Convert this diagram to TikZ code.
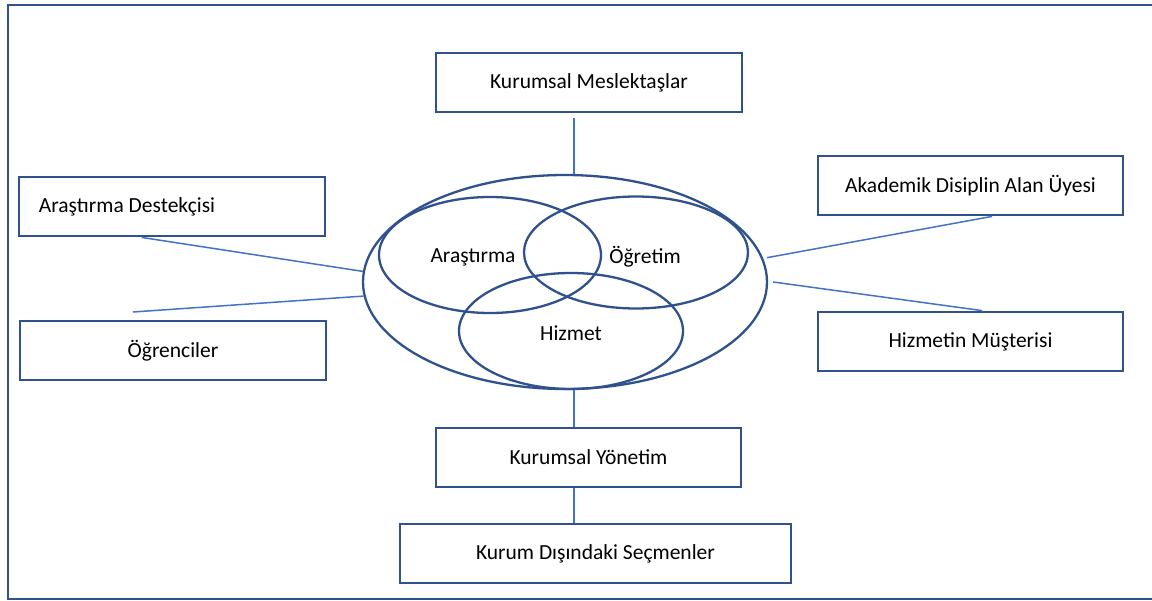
\documentclass[tikz,border=0pt]{standalone}
\usepackage{fontspec}
\setmainfont{Carlito}
\usetikzlibrary{shapes.geometric,calc}
\definecolor{boxblue}{RGB}{47,82,143}
\definecolor{lineblue}{RGB}{68,114,196}
\tikzset{
  card/.style={draw=boxblue, line width=2.8pt, fill=white, minimum width=306pt, minimum height=59pt, inner sep=0pt, text=black},
  ring/.style={ellipse, draw=boxblue, line width=2.3pt, inner sep=0pt},
  lbl/.style={text=black, inner sep=0pt},
  link/.style={draw=lineblue, line width=1.5pt}
}
\begin{document}
\begin{tikzpicture}[x=1pt,y=-1pt, font=\fontsize{21.5}{26}\selectfont]
\useasboundingbox (0,0) rectangle (1152,601);
\clip (0,0) rectangle (1152,601);
\fill[white] (0,0) rectangle (1152,601);
\draw[boxblue, line width=2.8pt] (8,5) rectangle (1162,599);

% ellipses
\node[ring, minimum width=404pt, minimum height=214pt] (outer) at (565,282) {};
\node[ring, minimum width=222pt, minimum height=116pt] (arr) at (490,255) {};
\node[ring, minimum width=224pt, minimum height=112pt] (ogr) at (636,252.5) {};
\node[ring, minimum width=224pt, minimum height=116pt] (hiz) at (571,331) {};
\node[lbl] (tarr) at (473,257) {Araştırma};
\node[lbl] (togr) at (645,257) {Öğretim};
\node[lbl] (thiz) at (571,333) {Hizmet};

% boxes
\node[card] (km) at (589,82.5) {Kurumsal Meslektaşlar};
\node[card] (ad) at (172,206.5) {Araştırma Destekçisi\hspace*{90pt}};
\node[card] (og) at (173,350.5) {Öğrenciler};
\node[card, minimum width=305pt] (ak) at (970.5,185.5) {Akademik Disiplin Alan Üyesi};
\node[card, minimum width=305pt] (hm) at (970.5,341.5) {Hizmetin Müşterisi};
\node[card, minimum width=305pt] (ky) at (588.5,457.5) {Kurumsal Yönetim};
\node[card, minimum width=391pt] (kd) at (595.5,553.5) {Kurum Dışındaki Seçmenler};

% connectors
\coordinate (ogfree) at (133,312);
\draw[link] ([xshift=-15pt,yshift=-5pt]km.south) -- ([xshift=-15pt]km.south |- outer.north);
\draw[link] ([xshift=124pt]ad.south west) -- (outer.177);
\draw[link] (ogfree) -- (outer.184);
\draw[link] ([xshift=4pt]outer.7) -- ([xshift=21.5pt]ak.south);
\draw[link] ([xshift=5pt]outer.0) -- ([xshift=11.5pt]hm.north);
\draw[link] ([xshift=-14.5pt]ky.north |- outer.south) -- ([xshift=-14.5pt]ky.north);
\draw[link] ([xshift=-14.5pt]ky.south) -- ([xshift=-14.5pt]ky.south |- kd.north);
\end{tikzpicture}
\end{document}
